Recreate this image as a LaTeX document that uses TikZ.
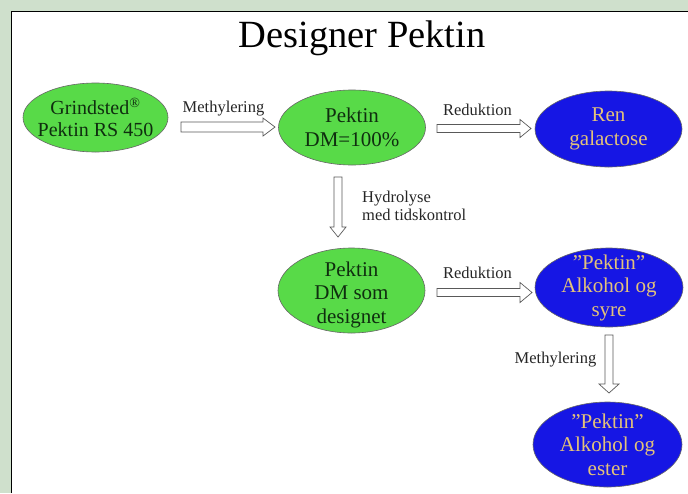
\documentclass[tikz,border=0pt]{standalone}
\usepackage{fontspec}
\setmainfont{Liberation Serif}
\usetikzlibrary{shapes.geometric,calc}
\definecolor{bggreen}{HTML}{CFE0CC}
\definecolor{elgreen}{HTML}{58DA48}
\definecolor{elblue}{HTML}{1616E4}
\definecolor{txtgold}{HTML}{E3C27A}
\definecolor{txtdark}{HTML}{0F2E0F}
\tikzset{
  greenel/.style={ellipse, draw=black!60, line width=0.6pt, fill=elgreen, inner sep=0pt},
  blueel/.style={ellipse, draw=black!60, line width=0.6pt, fill=elblue, inner sep=0pt},
  gtext/.style={text=txtdark, inner sep=0pt, align=center, font=\fontsize{21}{23.5}\selectfont},
  btext/.style={text=txtgold, inner sep=0pt, align=center, font=\fontsize{21}{23.5}\selectfont},
  lbl/.style={font=\fontsize{16.5}{18}\selectfont, text=black!85, inner sep=0pt},
  blockarrow/.style={draw=black!65, fill=white, line width=0.7pt, line join=miter},
}
% horizontal block arrow: start, end, shaft half, head half, head length
\newcommand\hbarrow[5]{%
  \draw[blockarrow] ($(#1)+(0,-#3)$) -- ($(#2)+(-#5,-#3)$) -- ($(#2)+(-#5,-#4)$) -- (#2)
    -- ($(#2)+(-#5,#4)$) -- ($(#2)+(-#5,#3)$) -- ($(#1)+(0,#3)$) -- cycle;}
% vertical (downward) block arrow
\newcommand\vbarrow[5]{%
  \draw[blockarrow] ($(#1)+(-#3,0)$) -- ($(#2)+(-#3,-#5)$) -- ($(#2)+(-#4,-#5)$) -- (#2)
    -- ($(#2)+(#4,-#5)$) -- ($(#2)+(#3,-#5)$) -- ($(#1)+(#3,0)$) -- cycle;}
\begin{document}
\begin{tikzpicture}[x=1pt,y=-1pt]
\useasboundingbox (0,0) rectangle (688,493);
\fill[bggreen] (0,0) rectangle (688,493);
\fill[white] (11.5,11.5) rectangle (688,493);
\draw[black, line width=1.5pt] (11.5,493) -- (11.5,11.5) -- (688,11.5);

\node[font=\fontsize{38.5}{41}\selectfont, anchor=base, inner sep=0pt] (title) at (362,47.5) {Designer Pektin};

\node[greenel, minimum width=145pt, minimum height=69pt] (grind) at (95.5,117.5) {};
\node[gtext, font=\fontsize{20}{22}\selectfont] (grindt) at (grind.center)
  {Grindsted\textsuperscript{\textregistered}\\Pektin RS 450};
\node[greenel, minimum width=147pt, minimum height=75pt] (p100) at (352,127.5) {};
\node[gtext] (p100t) at (p100.center) {Pektin\\DM=100\%};
\node[blueel, minimum width=147pt, minimum height=76pt] (gal) at (608.5,129) {};
\node[btext] (galt) at (gal.center) {Ren\\galactose};
\node[greenel, minimum width=147pt, minimum height=85pt] (pdes) at (351.5,290.5) {};
\node[gtext] (pdest) at ([yshift=-4pt]pdes.center) {Pektin\\DM som\\designet};
\node[blueel, minimum width=148pt, minimum height=79pt] (syre) at (609,287.5) {};
\node[btext] (syret) at (syre.center) {\symbol{34}Pektin\symbol{34}\\Alkohol og\\syre};
\node[blueel, minimum width=149pt, minimum height=85pt] (ester) at (607.5,444.5) {};
\node[btext] (estert) at (ester.center) {\symbol{34}Pektin\symbol{34}\\Alkohol og\\ester};

\coordinate (m1s) at (181,127);   \coordinate (m1e) at (275,127);
\coordinate (r1s) at (437,128.5); \coordinate (r1e) at (531,128.5);
\coordinate (hs)  at (338,177);   \coordinate (he)  at (338,237);
\coordinate (r2s) at (437,292.5); \coordinate (r2e) at (532,292.5);
\coordinate (m2s) at (609,335);   \coordinate (m2e) at (609,393);

\hbarrow{m1s}{m1e}{5}{9}{12}
\hbarrow{r1s}{r1e}{4}{9}{11}
\vbarrow{hs}{he}{4}{8}{10}
\hbarrow{r2s}{r2e}{4}{10}{12}
\vbarrow{m2s}{m2e}{4}{10}{9}

\node[lbl, anchor=base] (lm1) at (223.5,112) {Methylering};
\node[lbl, anchor=base] (lr1) at (477.5,115) {Reduktion};
\node[lbl, anchor=base west] (lh) at (362,202) {Hydrolyse};
\node[lbl, anchor=base west] (lh2) at (362,220) {med tidskontrol};
\node[lbl, anchor=base] (lr2) at (477.5,278) {Reduktion};
\node[lbl, anchor=base] (lm2) at (555.5,363) {Methylering};
\end{tikzpicture}
\end{document}
